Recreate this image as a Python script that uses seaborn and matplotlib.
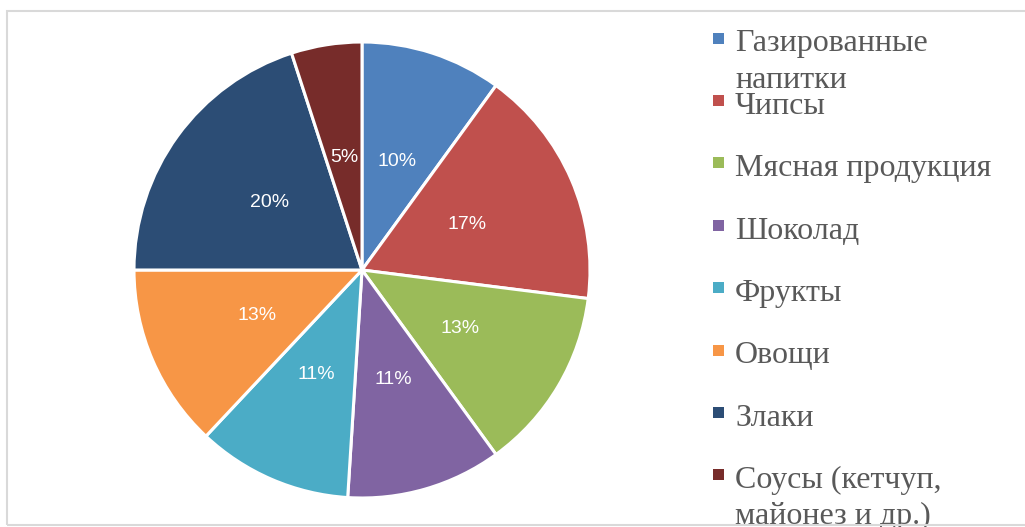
import matplotlib
matplotlib.use("Agg")
import matplotlib.pyplot as plt
import seaborn as sns
from matplotlib.patches import Rectangle

categories = ["Газированные\nнапитки", "Чипсы", "Мясная продукция", "Шоколад",
              "Фрукты", "Овощи", "Злаки", "Соусы (кетчуп,\nмайонез и др.)"]
values = [10, 17, 13, 11, 11, 13, 20, 5]
colors_hex = ["#4F81BD", "#C0504D", "#9BBB59", "#8064A2",
              "#4BACC6", "#F79646", "#2C4D75", "#772C2A"]

sns.set_theme(style="white")
plt.rcParams['font.family'] = ['Liberation Serif', 'DejaVu Sans']
palette = sns.color_palette(colors_hex)

W, H = 1025, 527
fig = plt.figure(figsize=(W / 100, H / 100), dpi=100)

# chart border
fig.patches.append(Rectangle((7 / W, 2 / H), 1.2, (525 - 11) / H,
                             transform=fig.transFigure, fill=False,
                             edgecolor="#D9D9D9", linewidth=1.5, zorder=10))

cx, cy, r = 362, 270, 228
ax = fig.add_axes([(cx - r) / W, (H - cy - r) / H, 2 * r / W, 2 * r / H])
wedges, texts, autotexts = ax.pie(
    values, colors=palette, startangle=90, counterclock=False,
    autopct=lambda p: f"{p:.0f}%", pctdistance=0.5,
    wedgeprops=dict(edgecolor="white", linewidth=2.2),
    textprops=dict(color="white", fontsize=14, family="Liberation Sans"))
ax.set_xlim(-1, 1)
ax.set_ylim(-1, 1)
ax.set_aspect("equal")
ax.axis("off")

# legend
y0, step, line_h, txt_off = 38, 62.4, 36, 6
for i, (lab, col) in enumerate(zip(categories, palette)):
    y = y0 + i * step
    fig.patches.append(Rectangle((713 / W, 1 - (y + 5.5) / H), 11 / W, 11 / H,
                                 transform=fig.transFigure, facecolor=col,
                                 edgecolor="none"))
    for j, line in enumerate(lab.split("\n")):
        fig.text(735 / W, 1 - (y + txt_off + j * line_h) / H, line, fontsize=23,
                 color="#595959", va="center", ha="left")

fig.savefig("out.png", dpi=100)
